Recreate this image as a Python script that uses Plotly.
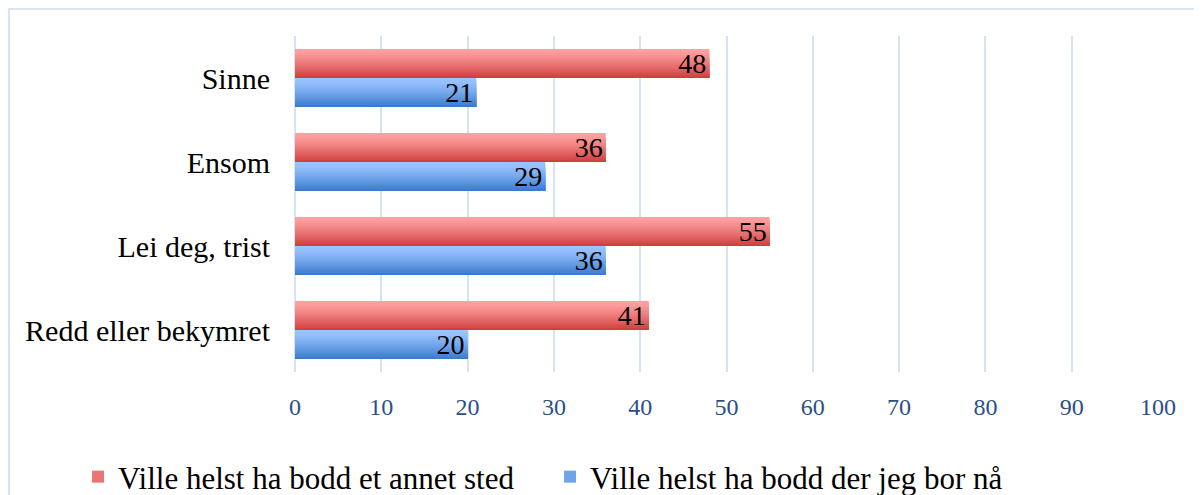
import plotly.graph_objects as go

categories = ["Sinne", "Ensom", "Lei deg, trist", "Redd eller bekymret"]
series_names = ["Ville helst ha bodd et annet sted", "Ville helst ha bodd der jeg bor nå"]
annet_sted = [48, 36, 55, 41]
bor_naa = [21, 29, 36, 20]
x_ticks = [0, 10, 20, 30, 40, 50, 60, 70, 80, 90, 100]

FONT = "Liberation Serif"
BAR_W = 0.345
N_STRIPS = 14


def lerp(c1, c2, t):
    return "rgb(%d,%d,%d)" % tuple(round(a + (b - a) * t) for a, b in zip(c1, c2))


series = [
    (series_names[0], annet_sted, -BAR_W, (255, 160, 160), (208, 64, 64)),
    (series_names[1], bor_naa, 0.0, (154, 196, 255), (60, 124, 206)),
]

fig = go.Figure()
dw = BAR_W / N_STRIPS
for name, vals, off0, light, dark in series:
    for i in range(N_STRIPS):
        t = (i / (N_STRIPS - 1)) ** 1.3
        fig.add_trace(go.Bar(
            y=categories, x=vals, orientation="h", name=name,
            offset=off0 + i * dw, width=BAR_W - i * dw,
            marker=dict(color=lerp(light, dark, t), line=dict(width=0)),
            showlegend=(i == N_STRIPS // 2), legendgroup=name, hoverinfo="skip",
        ))
for name, vals, off0, light, dark in series:
    fig.add_trace(go.Bar(
        y=categories, x=vals, orientation="h", name=name,
        offset=off0, width=BAR_W,
        marker=dict(color="rgba(0,0,0,0)", line=dict(width=0)),
        text=vals, textposition="inside", insidetextanchor="end", textangle=0,
        textfont=dict(family=FONT, size=28, color="black"),
        showlegend=False, legendgroup=name,
    ))

fig.update_layout(
    width=1202, height=495,
    margin=dict(l=287, r=52, t=28, b=131, autoexpand=False),
    paper_bgcolor="white", plot_bgcolor="white",
    barmode="overlay",
    font=dict(family=FONT, color="black"),
    uniformtext=dict(minsize=28, mode="show"),
    xaxis=dict(range=[0, 100], tickvals=x_ticks, showgrid=True, gridcolor="#D5E3F3", gridwidth=2,
               zeroline=True, zerolinecolor="#D5E3F3", zerolinewidth=2, showline=False,
               tickfont=dict(family=FONT, size=24, color="#2B4F86"), ticks="", ticklabelstandoff=18,
               automargin=False),
    yaxis=dict(autorange="reversed", showgrid=False, showline=False, ticks="",
               tickfont=dict(family=FONT, size=30, color="black"), ticklabelstandoff=24,
               automargin=False),
    legend=dict(orientation="h", x=-0.2514, xanchor="left", y=-0.3125, yanchor="middle",
                font=dict(family=FONT, size=31, color="black"), entrywidth=427, entrywidthmode="pixels",
                traceorder="normal"),
    showlegend=True,
)
fig.add_shape(type="rect", xref="paper", yref="paper", x0=-0.3314, x1=1.2, y0=-0.6, y1=1.0804,
              line=dict(color="#D6E4F5", width=2), fillcolor="rgba(0,0,0,0)", layer="below")
fig.write_html("out.html")
